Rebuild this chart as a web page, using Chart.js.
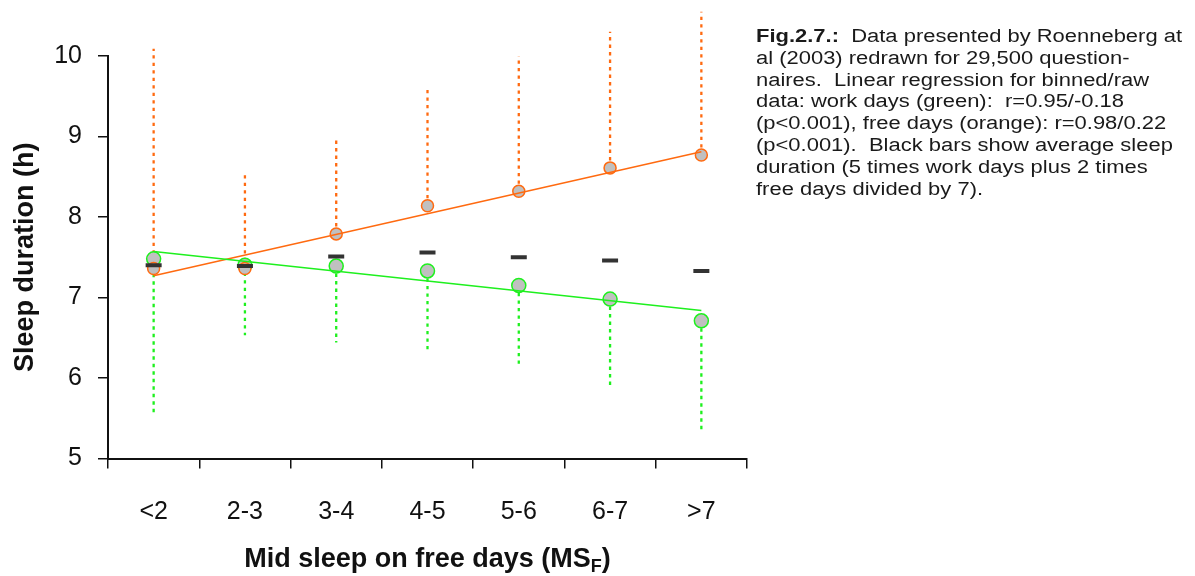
<!DOCTYPE html>
<html><head><meta charset="utf-8">
<script src="https://cdn.jsdelivr.net/npm/chart.js@4.4.0/dist/chart.umd.min.js"></script>
<style>
html,body{margin:0;padding:0;background:#fff;}
#wrap{position:relative;width:1195px;height:576px;overflow:hidden;}
#note{position:absolute;left:756px;top:26px;font-family:"Liberation Sans",Arial,sans-serif;font-size:18px;line-height:21.8px;color:#1a1a1a;white-space:pre;transform:scaleX(1.22);transform-origin:0 0;}
</style></head><body>
<div id="wrap"><canvas id="c" width="1195" height="576"></canvas>
<div id="note"><b>Fig.2.7.:</b>  Data presented by Roenneberg at
al (2003) redrawn for 29,500 question-
naires.  Linear regression for binned/raw
data: work days (green):  r=0.95/-0.18
(p&lt;0.001), free days (orange): r=0.98/0.22
(p&lt;0.001).  Black bars show average sleep
duration (5 times work days plus 2 times
free days divided by 7).</div></div>
<script>
const categories = ['<2','2-3','3-4','4-5','5-6','6-7','>7'];
const workDays   = [7.48, 7.40, 7.39, 7.33, 7.15, 6.98, 6.71];
const freeDays   = [7.36, 7.36, 7.79, 8.14, 8.32, 8.61, 8.77];
const avgSleep   = [7.40, 7.39, 7.51, 7.56, 7.50, 7.46, 7.33];
const workLow    = [5.57, 6.53, 6.44, 6.35, 6.17, 5.91, 5.34];
const freeHigh   = [10.09, 8.52, 8.96, 9.60, 10.00, 10.30, 10.55];
const workFit    = [7.57, 6.84];
const freeFit    = [7.27, 8.81];
const yTicks     = [5, 6, 7, 8, 9, 10];

const ORANGE = '#ff6a10';
const GREEN = '#1ef01e';
const FONT = '"Liberation Sans", Arial, sans-serif';

const datasets = [];
categories.forEach((c, i) => {
  datasets.push({data:[{x:c,y:freeDays[i]},{x:c,y:freeHigh[i]}], borderColor:ORANGE, borderWidth:2.3, borderDash:[3.3,4.2], pointRadius:0, clip:false, order:5});
  datasets.push({data:[{x:c,y:workDays[i]},{x:c,y:workLow[i]}], borderColor:GREEN, borderWidth:2.3, borderDash:[3.3,4.2], pointRadius:0, clip:false, order:5});
});
datasets.push({data:workDays, showLine:false, pointRadius:7, pointBackgroundColor:'#c0c0c0', pointBorderColor:GREEN, pointBorderWidth:1.5, order:3});
datasets.push({data:freeDays, showLine:false, pointRadius:6, pointBackgroundColor:'#c0c0c0', pointBorderColor:ORANGE, pointBorderWidth:1.5, order:2});
datasets.push({data:[{x:categories[0],y:workFit[0]},{x:categories[categories.length-1],y:workFit[1]}], borderColor:GREEN, borderWidth:1.5, pointRadius:0, order:1});
datasets.push({data:[{x:categories[0],y:freeFit[0]},{x:categories[categories.length-1],y:freeFit[1]}], borderColor:ORANGE, borderWidth:1.5, pointRadius:0, order:1});
datasets.push({data:avgSleep, showLine:false, pointStyle:'line', pointRadius:8, pointBorderWidth:4, pointBorderColor:'#333', order:0});

const xTitle = {
  id:'xTitle',
  afterDraw(chart){
    const ctx = chart.ctx, a = chart.chartArea;
    const main = 'Mid sleep on free days (MS', sub = 'F', end = ')';
    ctx.save();
    ctx.fillStyle = '#111';
    ctx.textBaseline = 'alphabetic';
    ctx.font = 'bold 27px ' + FONT;
    const w1 = ctx.measureText(main).width, w3 = ctx.measureText(end).width;
    ctx.font = 'bold 18px ' + FONT;
    const w2 = ctx.measureText(sub).width;
    let x = (a.left + a.right)/2 - (w1+w2+w3)/2;
    const y = 567;
    ctx.font = 'bold 27px ' + FONT; ctx.fillText(main, x, y); x += w1;
    ctx.font = 'bold 18px ' + FONT; ctx.fillText(sub, x, y+5); x += w2;
    ctx.font = 'bold 27px ' + FONT; ctx.fillText(end, x, y);
    ctx.restore();
  }
};

new Chart(document.getElementById('c'), {
  type:'line',
  data:{labels:categories, datasets},
  plugins:[xTitle],
  options:{
    responsive:false, animation:false, devicePixelRatio:1,
    layout:{padding:{top:56, right:448, left:0, bottom:0}},
    plugins:{legend:{display:false}, tooltip:{enabled:false}},
    scales:{
      x:{type:'category', offset:true,
        grid:{offset:true, drawOnChartArea:false, tickLength:10, color:'#111', lineWidth:1.5},
        border:{color:'#111', width:2},
        ticks:{font:{family:FONT, size:25}, color:'#111', padding:29, maxRotation:0},
        afterFit(s){ s.height = 576 - 458.5; }
      },
      y:{min:5, max:10,
        afterBuildTicks(s){ s.ticks = yTicks.map(v => ({value:v})); },
        grid:{drawOnChartArea:false, tickLength:10, color:'#111', lineWidth:1.5},
        border:{color:'#111', width:2},
        ticks:{font:{family:FONT, size:25}, color:'#111', padding:16},
        title:{display:true, text:'Sleep duration (h)', font:{family:FONT, size:27, weight:'bold'}, color:'#111', padding:{top:9, bottom:0}},
        afterFit(s){ s.width = 108; }
      }
    }
  }
});
</script>
</body></html>
